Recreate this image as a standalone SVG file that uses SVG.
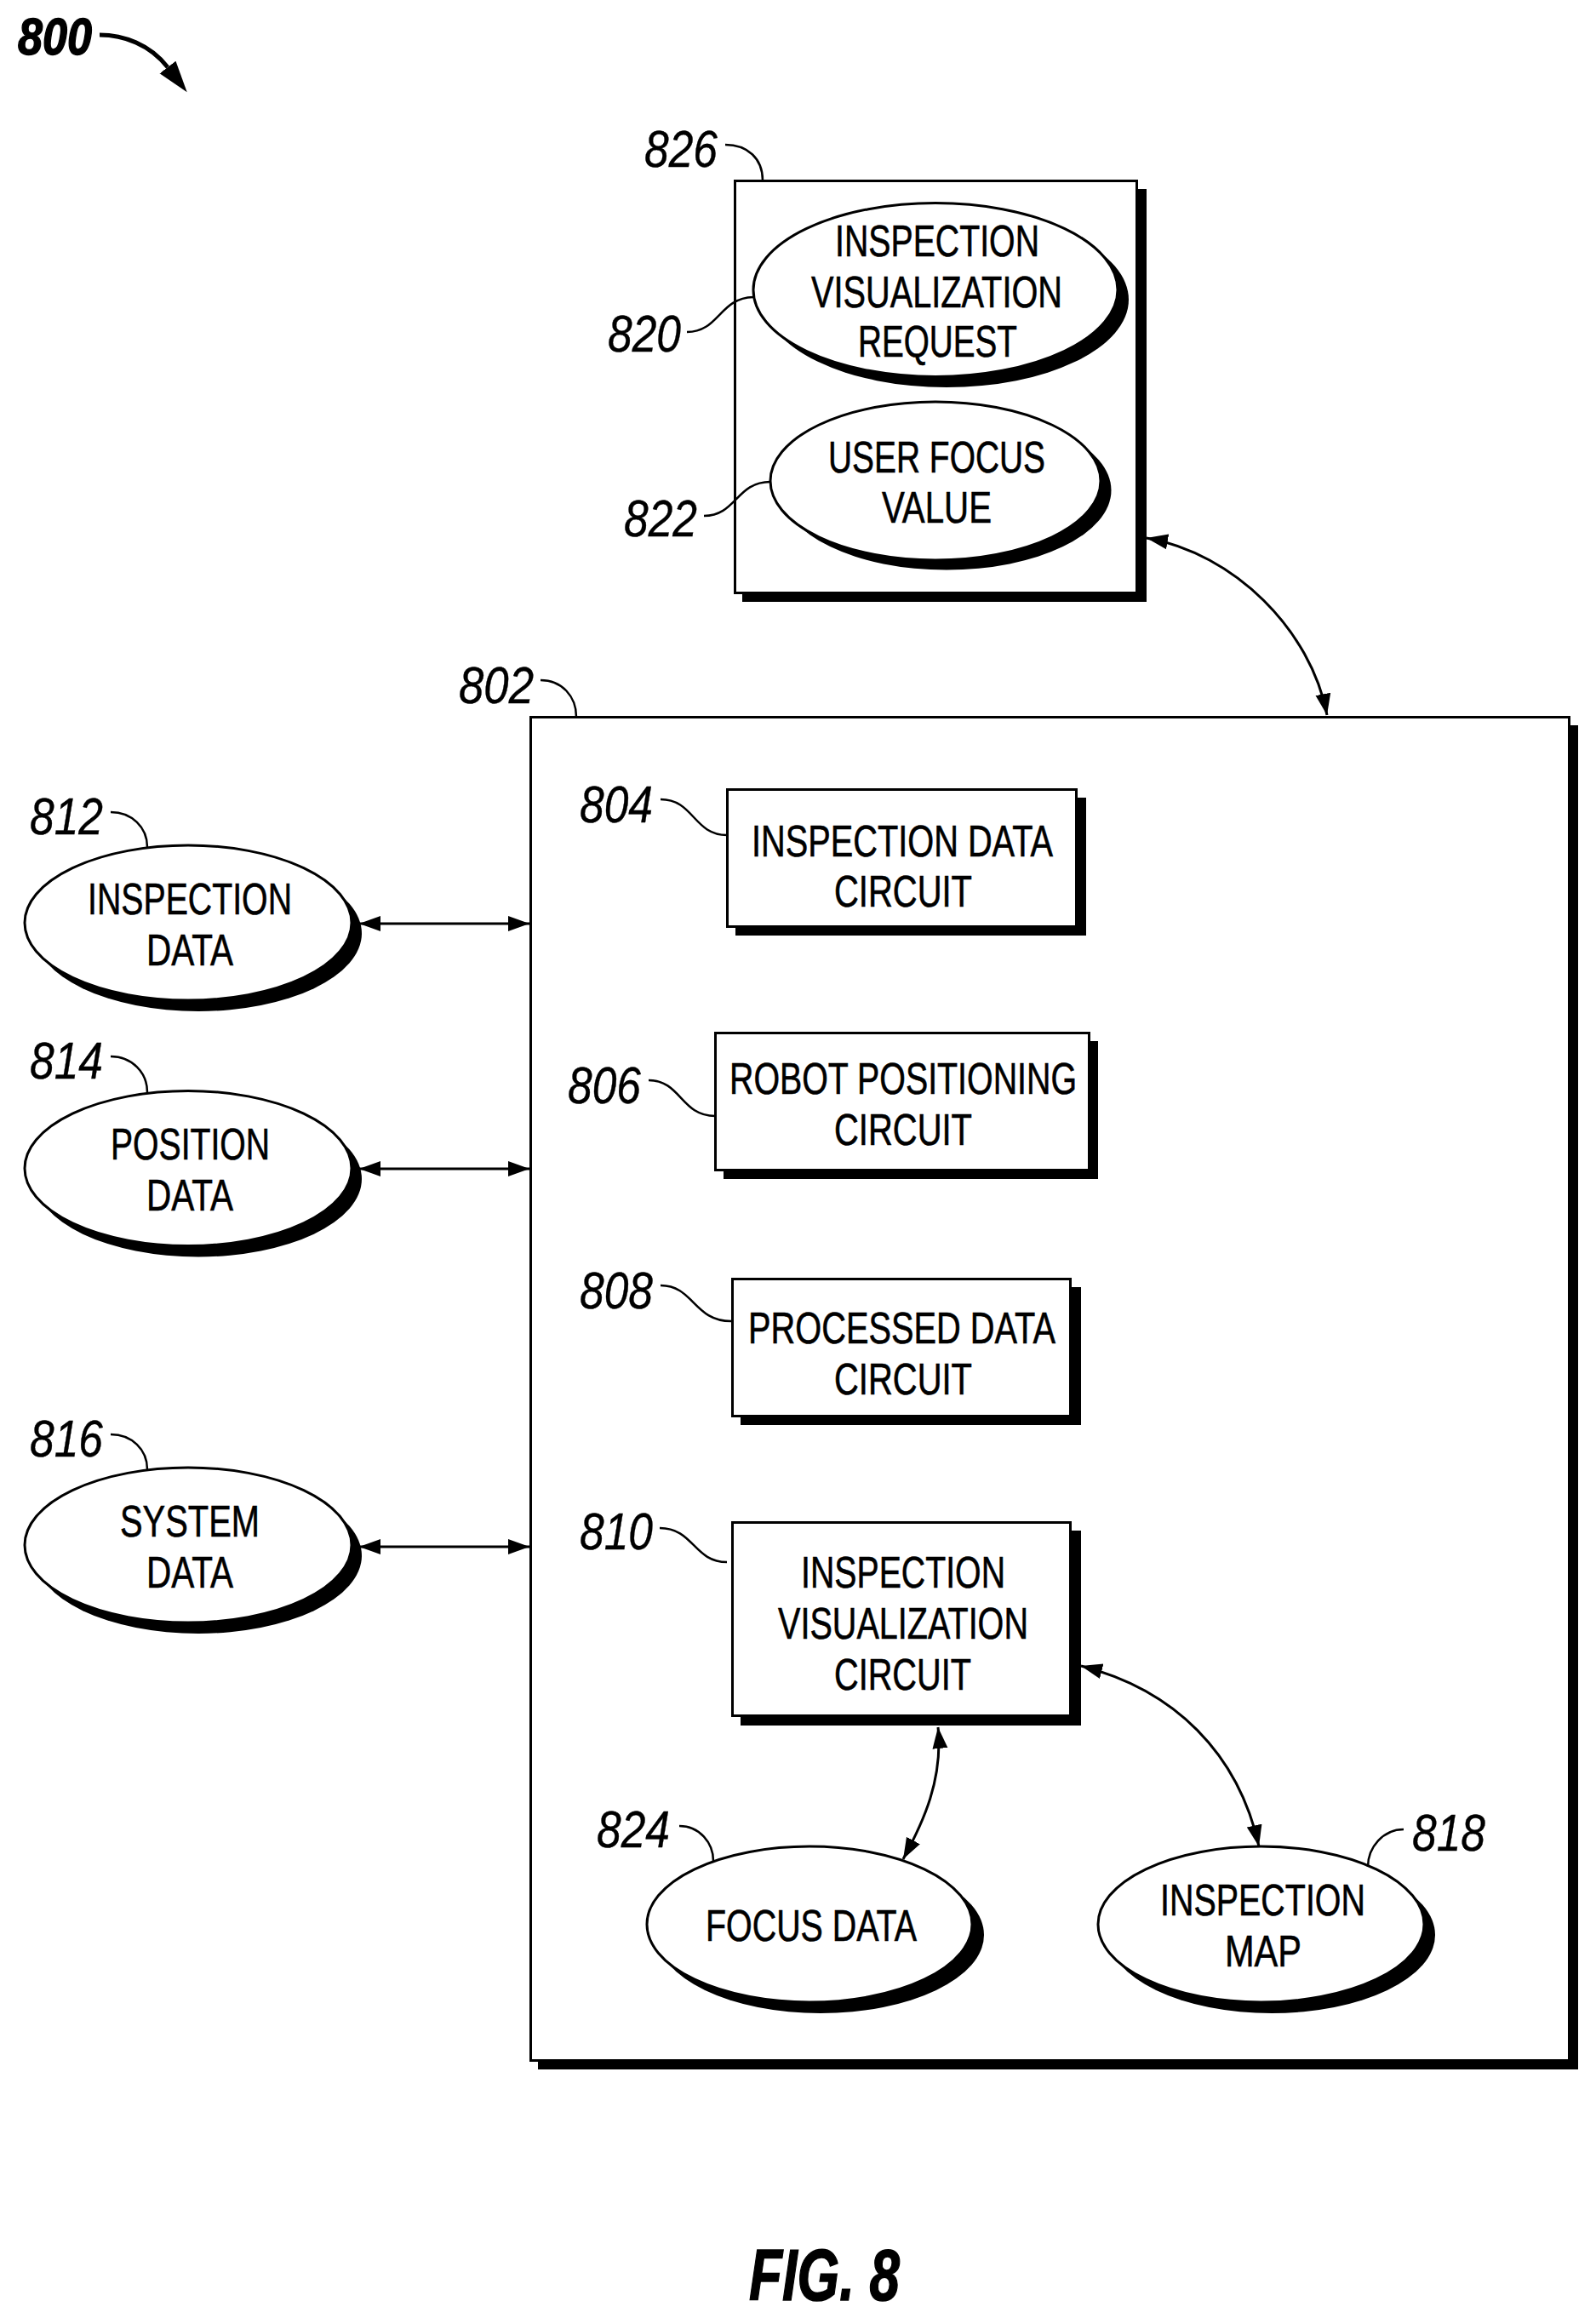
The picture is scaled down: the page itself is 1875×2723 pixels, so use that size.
<svg xmlns="http://www.w3.org/2000/svg" width="1875" height="2723" viewBox="0 0 1875 2723">
<style>
text{font-family:"Liberation Sans",Arial,sans-serif;fill:#000}
.t{font-size:52px;stroke:#000;stroke-width:.6}
.r{font-size:62px;font-style:italic;stroke:#000;stroke-width:.4}
.b{font-style:italic;font-weight:bold;stroke:#000;stroke-width:1.5}
.box{fill:#fff;stroke:#000;stroke-width:3}
.shd{fill:#000;stroke:none}
.el{fill:#fff;stroke:#000;stroke-width:3}
.lead{fill:none;stroke:#000;stroke-width:2.5}
.arr{fill:none;stroke:#000;stroke-width:3;marker-start:url(#ah);marker-end:url(#ah)}
</style>
<defs>
<marker id="ah" markerUnits="userSpaceOnUse" markerWidth="26" markerHeight="20" refX="25" refY="10" orient="auto-start-reverse"><path d="M0,1 L25,10 L0,19 Z" fill="#000"/></marker>
<marker id="ah2" markerUnits="userSpaceOnUse" markerWidth="38" markerHeight="26" refX="0" refY="13" orient="auto"><path d="M0,1 L37,13 L0,25 Z" fill="#000"/></marker>
</defs>
<rect width="1875" height="2723" fill="#fff"/>

<g id="n800"><text class="b" font-size="62" x="21" y="64" textLength="87" lengthAdjust="spacingAndGlyphs">800</text></g>

<g id="n826"><rect class="shd" x="872" y="222" width="475" height="485"/><rect class="box" x="863.500" y="212.500" width="472" height="484"/>
<text class="r" x="757" y="196" textLength="86" lengthAdjust="spacingAndGlyphs">826</text></g>
<g id="n820"><ellipse class="shd" cx="1112" cy="352" rx="214" ry="103"/><ellipse class="el" cx="1099" cy="340.500" rx="214" ry="102"/>
<text class="t" x="981" y="301" textLength="240" lengthAdjust="spacingAndGlyphs">INSPECTION</text>
<text class="t" x="953" y="361" textLength="295" lengthAdjust="spacingAndGlyphs">VISUALIZATION</text>
<text class="t" x="1008" y="419" textLength="187" lengthAdjust="spacingAndGlyphs">REQUEST</text>
<text class="r" x="714" y="413" textLength="86" lengthAdjust="spacingAndGlyphs">820</text></g>
<g id="n822"><ellipse class="shd" cx="1112" cy="576" rx="193.500" ry="93.500"/><ellipse class="el" cx="1099" cy="565" rx="194" ry="93"/>
<text class="t" x="973" y="555" textLength="255" lengthAdjust="spacingAndGlyphs">USER FOCUS</text>
<text class="t" x="1036" y="614" textLength="129" lengthAdjust="spacingAndGlyphs">VALUE</text>
<text class="r" x="733" y="630" textLength="86" lengthAdjust="spacingAndGlyphs">822</text></g>

<g id="n802"><rect class="shd" x="632" y="852" width="1222" height="1579"/><rect class="box" x="623.500" y="842.500" width="1220" height="1578"/>
<text class="r" x="539" y="826" textLength="88" lengthAdjust="spacingAndGlyphs">802</text></g>

<g id="n804"><rect class="shd" x="864" y="937" width="412" height="162"/><rect class="box" x="854.500" y="927.500" width="410" height="161"/>
<text class="t" x="883" y="1006" textLength="354" lengthAdjust="spacingAndGlyphs">INSPECTION DATA</text>
<text class="t" x="980" y="1065" textLength="162" lengthAdjust="spacingAndGlyphs">CIRCUIT</text>
<text class="r" x="681" y="966" textLength="86" lengthAdjust="spacingAndGlyphs">804</text></g>
<g id="n806"><rect class="shd" x="850" y="1223" width="440" height="162"/><rect class="box" x="840.500" y="1213.500" width="439" height="161"/>
<text class="t" x="857" y="1285" textLength="408" lengthAdjust="spacingAndGlyphs">ROBOT POSITIONING</text>
<text class="t" x="980" y="1345" textLength="162" lengthAdjust="spacingAndGlyphs">CIRCUIT</text>
<text class="r" x="667" y="1296" textLength="86" lengthAdjust="spacingAndGlyphs">806</text></g>
<g id="n808"><rect class="shd" x="870" y="1512" width="400" height="162"/><rect class="box" x="860.500" y="1502.500" width="397" height="161"/>
<text class="t" x="879" y="1578" textLength="361" lengthAdjust="spacingAndGlyphs">PROCESSED DATA</text>
<text class="t" x="980" y="1638" textLength="162" lengthAdjust="spacingAndGlyphs">CIRCUIT</text>
<text class="r" x="681" y="1537" textLength="86" lengthAdjust="spacingAndGlyphs">808</text></g>
<g id="n810"><rect class="shd" x="870" y="1798" width="400" height="229"/><rect class="box" x="860.500" y="1788.500" width="397" height="227"/>
<text class="t" x="941" y="1865" textLength="240" lengthAdjust="spacingAndGlyphs">INSPECTION</text>
<text class="t" x="914" y="1925" textLength="294" lengthAdjust="spacingAndGlyphs">VISUALIZATION</text>
<text class="t" x="980" y="1985" textLength="161" lengthAdjust="spacingAndGlyphs">CIRCUIT</text>
<text class="r" x="681" y="1820" textLength="86" lengthAdjust="spacingAndGlyphs">810</text></g>

<g id="n812"><ellipse class="shd" cx="233" cy="1096.500" rx="192" ry="91.500"/><ellipse class="el" cx="221" cy="1084" rx="192" ry="91"/>
<text class="t" x="103" y="1074" textLength="240" lengthAdjust="spacingAndGlyphs">INSPECTION</text>
<text class="t" x="172" y="1134" textLength="102" lengthAdjust="spacingAndGlyphs">DATA</text>
<text class="r" x="35" y="980" textLength="86" lengthAdjust="spacingAndGlyphs">812</text></g>
<g id="n814"><ellipse class="shd" cx="233" cy="1385" rx="192" ry="91.500"/><ellipse class="el" cx="221" cy="1372.500" rx="192" ry="91"/>
<text class="t" x="130" y="1362" textLength="187" lengthAdjust="spacingAndGlyphs">POSITION</text>
<text class="t" x="172" y="1422" textLength="102" lengthAdjust="spacingAndGlyphs">DATA</text>
<text class="r" x="35" y="1267" textLength="86" lengthAdjust="spacingAndGlyphs">814</text></g>
<g id="n816"><ellipse class="shd" cx="233" cy="1827.500" rx="192" ry="91.500"/><ellipse class="el" cx="221" cy="1815" rx="192" ry="91"/>
<text class="t" x="141" y="1805" textLength="164" lengthAdjust="spacingAndGlyphs">SYSTEM</text>
<text class="t" x="172" y="1865" textLength="102" lengthAdjust="spacingAndGlyphs">DATA</text>
<text class="r" x="35" y="1711" textLength="86" lengthAdjust="spacingAndGlyphs">816</text></g>

<g id="n824"><ellipse class="shd" cx="964" cy="2273" rx="192" ry="92"/><ellipse class="el" cx="951" cy="2260.500" rx="191" ry="91.500"/>
<text class="t" x="829" y="2280" textLength="248" lengthAdjust="spacingAndGlyphs">FOCUS DATA</text>
<text class="r" x="701" y="2170" textLength="86" lengthAdjust="spacingAndGlyphs">824</text></g>
<g id="n818"><ellipse class="shd" cx="1494" cy="2273" rx="192" ry="92"/><ellipse class="el" cx="1481.500" cy="2260.500" rx="191.500" ry="91.500"/>
<text class="t" x="1363" y="2250" textLength="241" lengthAdjust="spacingAndGlyphs">INSPECTION</text>
<text class="t" x="1439" y="2310" textLength="90" lengthAdjust="spacingAndGlyphs">MAP</text>
<text class="r" x="1659" y="2174" textLength="86" lengthAdjust="spacingAndGlyphs">818</text></g>

<g id="fig"><text class="b" font-size="86" x="880" y="2702" textLength="177" lengthAdjust="spacingAndGlyphs">FIG. 8</text></g>

<g id="connectors">
<path d="M117,41 C145,41 176,52 197,79" fill="none" stroke="#000" stroke-width="5" marker-end="url(#ah2)"/>
<path class="lead" d="M852,170 C878,170 896,186 896,212"/>
<path class="lead" d="M807,390 C845,390 845,350 885,349"/>
<path class="lead" d="M827,606 C865,606 865,566 905,566"/>
<path class="lead" d="M635,799 C660,799 677,818 677,842"/>
<path class="lead" d="M776,939 C815,939 815,981 854,981"/>
<path class="lead" d="M762,1269 C800,1269 800,1311 840,1311"/>
<path class="lead" d="M776,1510 C815,1510 815,1552 859,1552"/>
<path class="lead" d="M775,1795 C815,1795 815,1835 854,1835"/>
<path class="lead" d="M130,954 C155,954 173,972 173,995"/>
<path class="lead" d="M130,1241 C155,1241 173,1260 173,1283"/>
<path class="lead" d="M130,1685 C155,1685 173,1703 173,1726"/>
<path class="lead" d="M798,2145 C822,2145 838,2165 838,2186"/>
<path class="lead" d="M1649,2149 C1625,2149 1607,2170 1607,2193"/>
<path class="arr" d="M1347,632 C1450,650 1540,740 1559,840"/>
<path class="arr" d="M422,1085 L622,1085"/>
<path class="arr" d="M422,1373 L622,1373"/>
<path class="arr" d="M422,1817 L622,1817"/>
<path class="arr" d="M1270,1957 C1380,1985 1455,2060 1479,2169"/>
<path class="arr" d="M1102,2029 C1108,2090 1085,2140 1061,2184"/>
</g>
</svg>
